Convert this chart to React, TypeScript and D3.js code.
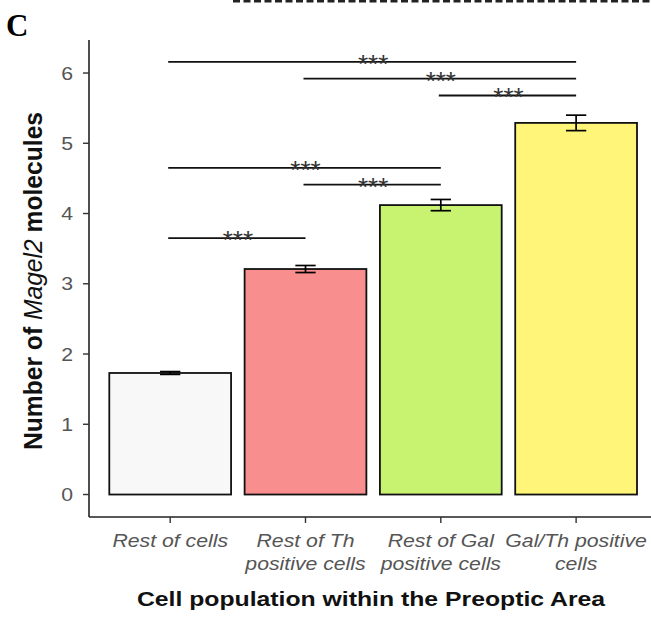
import React from 'react'
import * as d3 from 'd3'

// Magel2 counts per cell population (bar = mean, whisker = SEM)
const categories = ['Rest of cells', 'Rest of Th positive cells', 'Rest of Gal positive cells', 'Gal/Th positive cells']
const tickLines = [['Rest of cells'], ['Rest of Th', 'positive cells'], ['Rest of Gal', 'positive cells'], ['Gal/Th positive', 'cells']]
const means = [1.73, 3.21, 4.12, 5.29]
const sems = [0.02, 0.05, 0.08, 0.11]
const yTicks = [0, 1, 2, 3, 4, 5, 6]

// significance brackets: [from, to], height, label
const sigPairs = [[0, 3], [1, 3], [2, 3], [0, 2], [1, 2], [0, 1]]
const sigHeights = [6.16, 5.92, 5.68, 4.65, 4.41, 3.65]
const sigLabels = ['***', '***', '***', '***', '***', '***']

const fills = ['#F8F8F8', '#F98E8E', '#C8F370', '#FFF679']

const W = 651
const H = 619
const SX = 1.18 // text in the figure looks a bit wide

const App = () => {
  const x = d3.scaleBand()
    .domain(categories)
    .range([89, 657.3])
    .paddingInner(0.1)
    .paddingOuter(0.15)

  const y = d3.scaleLinear().domain([-0.32, 6.47]).range([517, 40])

  const cx = (i: number) => x(categories[i])! + x.bandwidth() / 2
  const capW = x.step() * 0.075

  const font = 'Liberation Sans, Arial, sans-serif'

  return (
    <svg width={W} height={H} style={{position: 'absolute', left: 0, top: 0}} fontFamily={font}>
      <rect width={W} height={H} fill="#fff" />

      {/* panel letter + dashed rule from the neighbouring panel */}
      <text x={6} y={36} fontFamily="Liberation Serif, Times New Roman, serif" fontWeight="bold" fontSize={31}>C</text>
      <line x1={233} x2={W} y1={1.2} y2={1.2} stroke="#222" strokeWidth={2.4} strokeDasharray="7,3.5" />

      {/* bars */}
      {means.map((m, i) => (
        <rect key={i}
          x={x(categories[i])} y={y(m)}
          width={x.bandwidth()} height={y(0) - y(m)}
          fill={fills[i]} stroke="#111" strokeWidth={1.8} />
      ))}

      {/* error bars */}
      {means.map((m, i) => {
        const c = cx(i)
        const lo = y(m - sems[i]), hi = y(m + sems[i])
        return <g key={i} stroke="#000" strokeWidth={1.7}>
          <line x1={c} x2={c} y1={lo} y2={hi} />
          <line x1={c - capW} x2={c + capW} y1={lo} y2={lo} />
          <line x1={c - capW} x2={c + capW} y1={hi} y2={hi} />
        </g>
      })}

      {/* significance */}
      {sigPairs.map(([a, b], i) => {
        const yy = y(sigHeights[i])
        const mid = (cx(a) + cx(b)) / 2
        return <g key={i}>
          <line x1={cx(a) - 2} x2={cx(b)} y1={yy} y2={yy} stroke="#111" strokeWidth={1.8} />
          <text x={mid} y={yy + 11} textAnchor="middle" fontSize={26} fill="#333">{sigLabels[i]}</text>
        </g>
      })}

      {/* axes */}
      <line x1={89} x2={89} y1={40} y2={517} stroke="#222" strokeWidth={1.6} />
      <line x1={89} x2={W} y1={517} y2={517} stroke="#222" strokeWidth={1.6} />

      {yTicks.map(t => (
        <g key={t}>
          <line x1={83} x2={89} y1={y(t)} y2={y(t)} stroke="#333" strokeWidth={1.4} />
          <text transform={`translate(73,${y(t) + 6.5}) scale(${SX},1)`} textAnchor="end" fontSize={18} fill="#555">{t}</text>
        </g>
      ))}

      {categories.map((c, i) => (
        <g key={c}>
          <line x1={cx(i)} x2={cx(i)} y1={517} y2={523} stroke="#333" strokeWidth={1.4} />
          {tickLines[i].map((s, j) => (
            <text key={j} transform={`translate(${cx(i)},${547 + j * 23}) scale(${SX},1)`}
              textAnchor="middle" fontSize={18} fontStyle="italic" fill="#555">{s}</text>
          ))}
        </g>
      ))}

      {/* titles */}
      <text transform={`translate(371,606) scale(${SX},1)`} textAnchor="middle" fontSize={21} fontWeight="bold" fill="#111">
        Cell population within the Preoptic Area
      </text>
      <text transform={`translate(42,281) rotate(-90) scale(1.12,${SX})`} textAnchor="middle" fontSize={22} fontWeight="bold" fill="#111">
        Number of <tspan fontStyle="italic" fontWeight="normal">Magel2</tspan> molecules
      </text>
    </svg>
  )
}

export default App
